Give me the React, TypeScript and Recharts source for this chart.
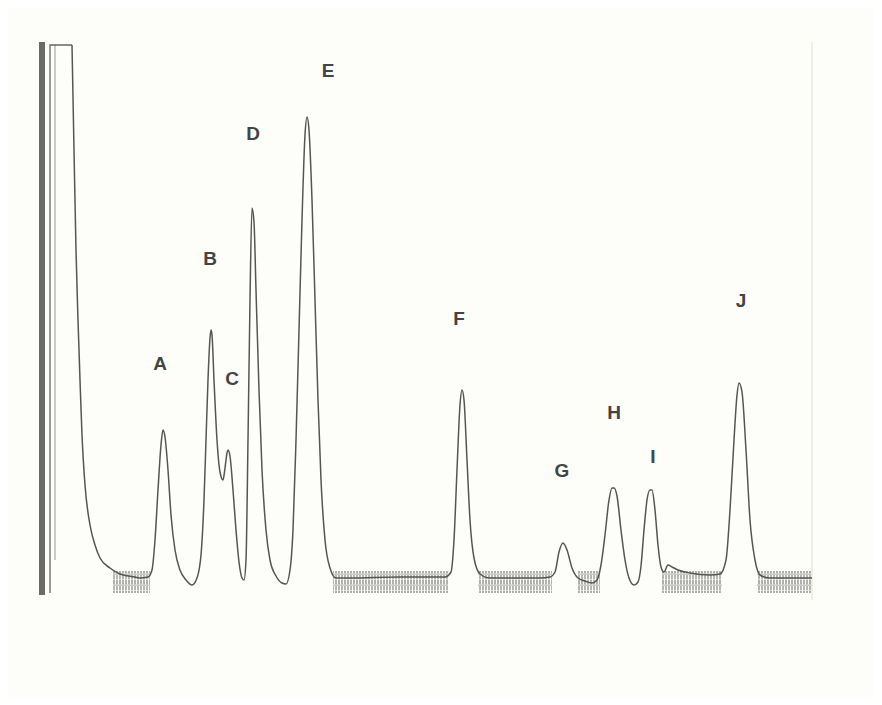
import React from "react";
import { LineChart, Line, XAxis, YAxis, ReferenceLine, ReferenceDot, ReferenceArea } from "recharts";

// retention time (min) and detector signal (arbitrary units)
const traceTime = [1.6,1.7,1.8,1.9,2.0,2.1,2.25,2.5,2.75,3.0,3.5,4.0,4.75,5.0,5.4,5.6,5.75,5.9,6.05,6.15,6.25,6.4,6.55,6.75,7.0,7.3,7.6,7.85,8.05,8.2,8.3,8.4,8.5,8.55,8.6,8.7,8.85,9.0,9.15,9.25,9.35,9.4,9.5,9.65,9.8,9.95,10.1,10.2,10.3,10.4,10.5,10.6,10.7,10.8,10.95,11.1,11.3,11.5,11.8,12.1,12.3,12.5,12.65,12.8,12.95,13.1,13.25,13.35,13.45,13.6,13.75,13.9,14.05,14.25,14.5,14.8,15.5,18.0,20.25,20.55,20.7,20.85,21.0,21.1,21.2,21.35,21.5,21.7,22.0,22.5,25.0,25.5,25.75,25.95,26.15,26.35,26.6,26.9,27.25,27.6,27.85,28.05,28.25,28.45,28.6,28.7,28.85,29.05,29.25,29.45,29.7,29.9,30.05,30.2,30.35,30.5,30.6,30.75,30.9,31.05,31.2,31.4,31.6,31.9,32.5,33.5,34.0,34.3,34.5,34.7,34.85,34.95,35.1,35.3,35.5,35.75,36.0,36.5,38.6];
const traceSignal = [1070,860,660,520,400,290,190,110,70,44,24,12,6,4,6,20,80,180,270,300,286,220,130,60,20,0,-10,4,50,160,280,400,484,500,490,400,280,216,200,224,254,260,248,180,100,36,4,0,40,280,560,744,716,580,380,220,100,40,8,-6,-8,20,100,280,500,720,890,926,900,760,560,360,200,80,24,4,4,6,6,16,80,220,350,380,360,240,120,44,12,4,4,6,16,56,74,60,24,4,-2,-6,0,30,90,160,184,184,168,100,40,4,-10,-4,28,100,160,180,180,140,70,26,16,30,26,20,14,10,12,40,140,280,370,394,376,260,120,40,10,4,4];

const solventTime = [0.5, 0.5, 1.6];
const solventSignal = [-26, 1070, 1070];

const peakNames = ["A","B","C","D","E","F","G","H","I","J"];
const peakLabelTime = [6.0,8.5,9.6,10.65,14.4,20.95,26.1,28.7,30.65,35.05];
const peakLabelSignal = [434,644,404,894,1020,524,220,336,248,560];

const hatchStart = [3.65,14.65,21.9,26.9,31.1,35.85];
const hatchEnd = [5.5,20.4,25.6,28.0,34.1,38.6];

const trace = traceTime.map((t, i) => ({ t, v: traceSignal[i] }));
const solvent = solventTime.map((t, i) => ({ t, v: solventSignal[i] }));

export default function App() {
  return (
    <div style={{ background: "#fdfdf9", width: 866, height: 689 }}>
      <LineChart width={866} height={689} margin={{ top: 32, left: 32, right: 34, bottom: 97 }}>
        <defs>
          <pattern id="hatch" width="3" height="11" patternUnits="userSpaceOnUse">
            <line x1="1" y1="0" x2="1" y2="4.5" stroke="#444" strokeWidth="1.2" />
            <line x1="1" y1="6" x2="1" y2="10.5" stroke="#555" strokeWidth="1.2" />
            <line x1="0" y1="5.2" x2="3" y2="5.2" stroke="#777" strokeWidth="0.8" />
          </pattern>
        </defs>
        <XAxis type="number" dataKey="t" domain={[0, 40]} hide allowDataOverflow />
        <YAxis type="number" dataKey="v" domain={[-40, 1080]} hide allowDataOverflow />
        {hatchStart.map((s, i) => (
          <ReferenceArea key={i} x1={s} x2={hatchEnd[i]} y1={-26} y2={18} fill="url(#hatch)" fillOpacity={0.7} stroke="none" />
        ))}
        <ReferenceLine segment={[{ x: 0.1, y: -30 }, { x: 0.1, y: 1076 }]} stroke="#6a6a66" strokeWidth={6} />
        <ReferenceLine segment={[{ x: 0.75, y: 40 }, { x: 0.75, y: 1070 }]} stroke="#9a9a96" strokeWidth={1} />
        <ReferenceLine segment={[{ x: 38.6, y: -40 }, { x: 38.6, y: 1076 }]} stroke="#ece8dc" strokeWidth={1.5} />
        <Line data={solvent} dataKey="v" type="linear" stroke="#666" strokeWidth={1.3} dot={false} isAnimationActive={false} />
        <Line data={trace} dataKey="v" type="monotone" stroke="#555" strokeWidth={1.5} dot={false} isAnimationActive={false} />
        {peakNames.map((n, i) => (
          <ReferenceDot
            key={n}
            x={peakLabelTime[i]}
            y={peakLabelSignal[i]}
            r={0}
            stroke="none"
            label={{ value: n, position: "center", fill: "#444", fontSize: 19, fontWeight: 700, fontFamily: "Liberation Sans, Arial, sans-serif" }}
          />
        ))}
      </LineChart>
    </div>
  );
}
